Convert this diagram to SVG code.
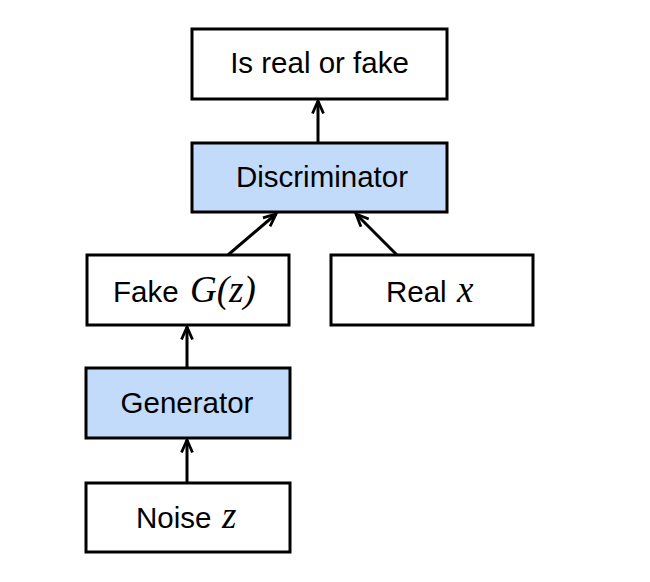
<svg xmlns="http://www.w3.org/2000/svg" width="650" height="582" viewBox="0 0 650 582">
<style>
.box{fill:#fff;stroke:#000;stroke-width:3}
.blue{fill:#c2dbfa}
.t{font-family:"Liberation Sans",Arial,sans-serif;font-size:29.5px;fill:#000}
.mid{text-anchor:middle}
.m{font-family:"Liberation Serif","Times New Roman",serif;font-style:italic;font-size:37px}
.c{stroke:#000;stroke-width:3;fill:none}
</style>
<defs>
<marker id="ah" viewBox="0 0 16 14" refX="14" refY="7" markerWidth="16" markerHeight="14" markerUnits="userSpaceOnUse" orient="auto">
<path d="M1.5,1.5 L14,7 L1.5,12.5" fill="none" stroke="#000" stroke-width="2.8" stroke-linejoin="miter"/>
</marker>
</defs>
<rect width="650" height="582" fill="#fff"/>
<g id="connectors">
<line class="c" x1="318" y1="143" x2="318" y2="101" marker-end="url(#ah)"/>
<line class="c" x1="228" y1="255" x2="276" y2="214" marker-end="url(#ah)"/>
<line class="c" x1="397" y1="255" x2="356" y2="214" marker-end="url(#ah)"/>
<line class="c" x1="187" y1="368" x2="187" y2="327" marker-end="url(#ah)"/>
<line class="c" x1="187" y1="483" x2="187" y2="440" marker-end="url(#ah)"/>
</g>
<g id="out">
<rect class="box" x="192" y="29" width="255" height="70"/>
<text class="t mid" x="319.5" y="73">Is real or fake</text>
</g>
<g id="disc">
<rect class="box blue" x="192" y="143" width="255" height="69"/>
<text class="t mid" x="322" y="187" font-size="28.5">Discriminator</text>
</g>
<g id="fake">
<rect class="box" x="87" y="255" width="202" height="70"/>
<text class="t" x="113" y="302">Fake <tspan class="m" x="190">G(z)</tspan></text>
</g>
<g id="real">
<rect class="box" x="331" y="255" width="202" height="70"/>
<text class="t" x="386" y="302">Real <tspan class="m" x="457">x</tspan></text>
</g>
<g id="gen">
<rect class="box blue" x="86" y="368" width="204" height="70"/>
<text class="t mid" x="187" y="413">Generator</text>
</g>
<g id="noise">
<rect class="box" x="86" y="483" width="204" height="69"/>
<text class="t" x="136" y="528">Noise <tspan class="m" x="222">z</tspan></text>
</g>
</svg>
